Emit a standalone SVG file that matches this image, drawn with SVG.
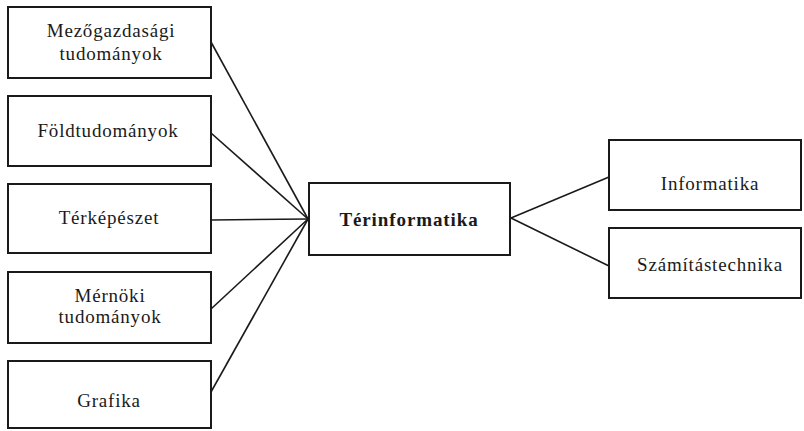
<svg xmlns="http://www.w3.org/2000/svg" width="804" height="431" viewBox="0 0 804 431">
<style>
.box{fill:#ffffff;stroke:#1a1a1a;stroke-width:2}
.t{font-family:"Liberation Serif","Times New Roman",serif;font-size:19px;fill:#1a1a1a;text-anchor:middle;letter-spacing:0.8px}
.b{font-weight:bold;letter-spacing:0.9px}
.c{stroke:#1a1a1a;stroke-width:1.6;fill:none}
</style>
<rect width="804" height="431" fill="#ffffff"/>
<g id="connectors">
<line class="c" x1="211" y1="42" x2="308" y2="219"/>
<line class="c" x1="211" y1="133" x2="308" y2="219"/>
<line class="c" x1="211" y1="220" x2="308" y2="219"/>
<line class="c" x1="211" y1="309" x2="308" y2="219"/>
<line class="c" x1="211" y1="392" x2="308" y2="219"/>
<line class="c" x1="511" y1="218" x2="609" y2="177"/>
<line class="c" x1="511" y1="218" x2="609" y2="266"/>
</g>
<g id="mezogazdasagi">
<rect class="box" x="8" y="7" width="203" height="71"/>
<text class="t" x="111" y="37">Mezőgazdasági</text>
<text class="t" x="111" y="60">tudományok</text>
</g>
<g id="foldtudomanyok">
<rect class="box" x="8" y="96" width="203" height="70"/>
<text class="t" x="108" y="137">Földtudományok</text>
</g>
<g id="terkepeszet">
<rect class="box" x="8" y="184" width="203" height="69"/>
<text class="t" x="109" y="224">Térképészet</text>
</g>
<g id="mernoki">
<rect class="box" x="8" y="272" width="203" height="71"/>
<text class="t" x="110" y="302">Mérnöki</text>
<text class="t" x="110" y="323">tudományok</text>
</g>
<g id="grafika">
<rect class="box" x="8" y="361" width="203" height="67"/>
<text class="t" x="109" y="407">Grafika</text>
</g>
<g id="terinformatika">
<rect class="box" x="309" y="183" width="201" height="72"/>
<text class="t b" x="409" y="226">Térinformatika</text>
</g>
<g id="informatika">
<rect class="box" x="609" y="140" width="192" height="70"/>
<text class="t" x="710" y="190">Informatika</text>
</g>
<g id="szamitastechnika">
<rect class="box" x="609" y="228" width="192" height="70"/>
<text class="t" x="710" y="271">Számítástechnika</text>
</g>
</svg>
